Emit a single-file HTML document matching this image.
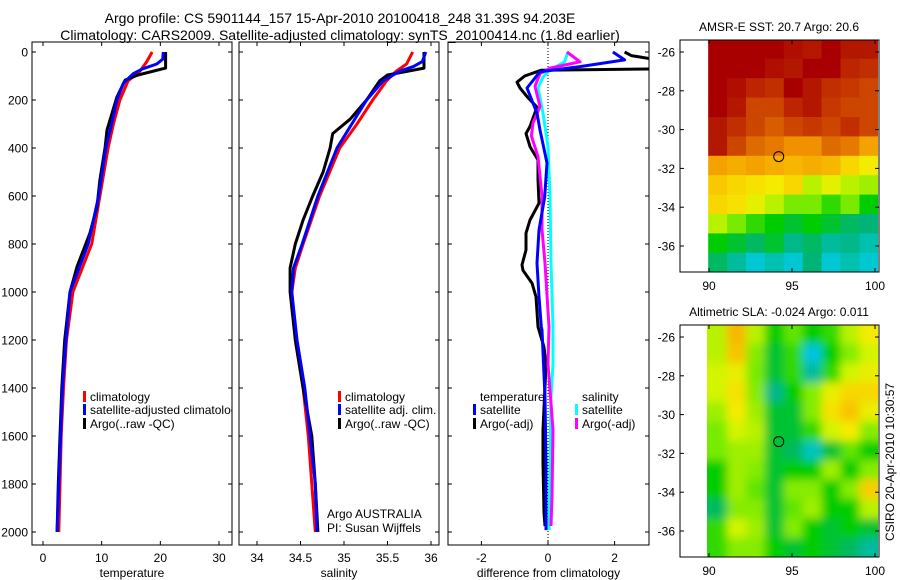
<!DOCTYPE html>
<html><head><meta charset="utf-8"><style>
html,body{margin:0;padding:0;background:#fff}
svg{display:block;font-family:"Liberation Sans",sans-serif}
</style></head><body>
<svg id="fig" width="900" height="580" viewBox="0 0 900 580" xmlns="http://www.w3.org/2000/svg">
<defs>
<clipPath id="c1"><rect x="32" y="42" width="200" height="503"/></clipPath>
<clipPath id="c2"><rect x="239" y="42" width="200" height="503"/></clipPath>
<clipPath id="c3"><rect x="448" y="42" width="201" height="503"/></clipPath>
<clipPath id="cm1"><rect x="707" y="40" width="171" height="232"/></clipPath>
<clipPath id="cm2"><rect x="707" y="325" width="171" height="232"/></clipPath>
<filter id="blur" x="-10%" y="-10%" width="120%" height="120%"><feGaussianBlur stdDeviation="4.5"/></filter>
</defs>
<g font-size="14" fill="#000">
<text x="340" y="23" text-anchor="middle">Argo profile: CS 5901144_157 15-Apr-2010 20100418_248 31.39S 94.203E</text>
<text x="340" y="40" text-anchor="middle">Climatology: CARS2009. Satellite-adjusted climatology: synTS_20100414.nc (1.8d earlier)</text>
</g>
<g id="root"></g>
</svg>
<script>
// ---------- data ----------
const depthTicks=[0,200,400,600,800,1000,1200,1400,1600,1800,2000];
const tempTicks=[0,10,20,30];
const salTicks=[34,34.5,35,35.5,36];
const diffTicks=[-2,0,2];
// temperature profiles
const tArgoD=[0,67,96,117,188,325,395,533,645,755,895,1000,1200,1400,1600,1800,2000];
const tArgoV=[20.9,20.9,16.2,14,12.6,10.9,10.6,9.7,9.2,8.0,5.8,4.6,3.7,3.2,2.9,2.6,2.4];
const tClimD=[0,40,80,120,200,300,400,600,800,1000,1200,1400,1600,1800,2000];
const tClimV=[18.6,17.7,16.5,14.5,13.1,12,11.1,9.7,8.3,5.1,4.0,3.5,3.1,2.9,2.7];
const tSatD=[0,30,50,70,90,130,200,300,400,600,800,1000,1200,1400,1600,1800,2000];
const tSatV=[20.5,20.4,19.4,17,15.4,13.7,12.6,11.7,10.7,9.5,7.7,4.6,3.9,3.3,3.0,2.7,2.4];
// salinity profiles
const sArgoD=[0,67,96,120,200,280,340,400,500,600,700,800,900,1000,1200,1400,1600,1800,2000];
const sArgoV=[35.92,35.92,35.5,35.41,35.26,35.07,34.87,34.84,34.76,34.64,34.53,34.44,34.38,34.38,34.44,34.53,34.63,34.67,34.70];
const sClimD=[0,50,80,120,200,300,400,600,800,900,1000,1200,1400,1600,1800,2000];
const sClimV=[35.79,35.72,35.6,35.49,35.33,35.15,34.95,34.72,34.53,34.44,34.40,34.44,34.53,34.59,34.63,34.67];
const sSatD=[0,40,60,80,120,200,300,400,600,800,900,1000,1200,1400,1600,1800,2000];
const sSatV=[35.94,35.9,35.8,35.64,35.45,35.26,35.09,34.92,34.7,34.52,34.42,34.40,34.46,34.55,34.61,34.67,34.69];
// differences from climatology
const dTSatD=[0,33,61,82,150,255,325,463,603,742,880,1020,1145,1158,1437,1713,1992];
const dTSatV=[1.95,2.3,0.96,-0.24,-0.63,-0.33,-0.24,-0.03,-0.1,-0.27,-0.33,-0.27,-0.2,-0.18,-0.09,-0.06,-0.06];
const dTArgoD=[0,15,40,70,76,100,126,150,186,230,310,340,394,450,530,630,700,755,825,887,910,963,1020,1145,1230,1300,1575,1713,1920,1975];
const dTArgoV=[2.3,2.5,3.6,3.6,-0.2,-0.7,-0.93,-0.84,-0.63,-0.33,-0.54,-0.66,-0.54,-0.3,-0.3,-0.27,-0.54,-0.66,-0.66,-0.78,-0.75,-0.48,-0.36,-0.3,-0.12,-0.06,-0.15,-0.15,-0.12,-0.09];
const dSSatD=[0,41,75,104,150,255,394,600,880,1145,1300,1437,1713,1992];
const dSSatV=[0.6,0.5,0.06,-0.15,-0.3,-0.15,0,0.06,0.09,0.15,0.15,0.09,0.06,0.03];
const dSArgoD=[0,41,67,90,143,227,296,350,435,600,740,880,1145,1300,1575,1850,1975];
const dSArgoV=[0.57,0.96,0.06,-0.24,-0.39,-0.24,-0.45,-0.5,-0.3,-0.18,-0.18,-0.09,0.03,0,0.15,0.12,0.09];
// maps (value 0..1 colour index), rows from north to south, 9 lon columns
const lonTicks=[90,95,100];
const latTicks=[-26,-28,-30,-32,-34,-36];
const sstGrid=[
[1,1,1,1,0.97,0.95,1,0.95,0.95],
[1,1,1,0.97,0.95,1,1,0.92,0.9],
[1,0.97,0.92,0.9,1,0.95,0.9,0.88,0.85],
[1,0.95,0.85,0.85,0.92,0.95,0.88,0.85,0.85],
[0.95,0.9,0.85,0.82,0.85,0.88,0.85,0.9,0.85],
[0.95,0.85,0.8,0.78,0.75,0.75,0.8,0.78,0.72],
[0.72,0.7,0.72,0.7,0.68,0.7,0.68,0.62,0.58],
[0.65,0.62,0.6,0.58,0.62,0.5,0.55,0.5,0.48],
[0.62,0.6,0.55,0.5,0.45,0.45,0.42,0.45,0.4],
[0.5,0.45,0.42,0.4,0.38,0.4,0.38,0.36,0.35],
[0.4,0.38,0.36,0.38,0.34,0.36,0.33,0.34,0.32],
[0.36,0.33,0.3,0.32,0.3,0.35,0.3,0.32,0.3]];
const slaGrid=[
[0.5,0.68,0.5,0.4,0.44,0.4,0.42,0.5,0.58],
[0.5,0.66,0.46,0.38,0.42,0.28,0.4,0.46,0.52],
[0.52,0.56,0.45,0.38,0.42,0.33,0.42,0.52,0.56],
[0.52,0.6,0.46,0.34,0.4,0.46,0.56,0.62,0.62],
[0.48,0.58,0.48,0.38,0.38,0.46,0.6,0.66,0.56],
[0.45,0.52,0.5,0.38,0.38,0.42,0.52,0.58,0.46],
[0.45,0.48,0.48,0.38,0.36,0.31,0.38,0.44,0.4],
[0.4,0.48,0.46,0.38,0.4,0.4,0.48,0.4,0.46],
[0.4,0.48,0.44,0.38,0.46,0.46,0.4,0.46,0.64],
[0.36,0.46,0.46,0.38,0.44,0.48,0.4,0.4,0.5],
[0.42,0.52,0.48,0.38,0.46,0.4,0.38,0.4,0.38],
[0.42,0.46,0.46,0.4,0.38,0.4,0.38,0.36,0.33]];
const gridLon0=89.95, gridLon1=100.2, gridLat0=-25.35, gridLat1=-37.35;
const argoLon=94.2, argoLat=-31.39;

// ---------- helpers ----------
const NS='http://www.w3.org/2000/svg';
const root=document.getElementById('root');
function mk(tag,attrs,parent){const e=document.createElementNS(NS,tag);for(const k in attrs)e.setAttribute(k,attrs[k]);(parent||root).appendChild(e);return e;}
const yD=d=>52+d*0.24;
const xT=v=>43+v*5.867;
const xS=v=>257+(v-34)*87;
const xDf=v=>548+v*33.3;
function line(Ds,Vs,xf,color,w,clip,name){
  const pts=Ds.map((d,i)=>xf(Vs[i]).toFixed(1)+','+yD(d).toFixed(1)).join(' ');
  const p=mk('polyline',{points:pts,fill:'none',stroke:color,'stroke-width':w,'stroke-linejoin':'round','clip-path':'url(#'+clip+')'});
  
  
}
function panel(x0,w,xf,ticks,fmt,label,showY,name){
  const g=mk('g',{});
  
  
  mk('rect',{x:x0,y:42,width:w,height:503,fill:'none',stroke:'#000','stroke-width':1},g);
  ticks.forEach(t=>{const x=xf(t);
    mk('line',{x1:x,x2:x,y1:545,y2:541,stroke:'#000'},g);
    mk('line',{x1:x,x2:x,y1:42,y2:46,stroke:'#000'},g);
    const tx=mk('text',{x:x,y:562,'text-anchor':'middle','font-size':12},g);tx.textContent=fmt(t);
    
    
  });
  depthTicks.forEach(d=>{const y=yD(d);
    mk('line',{x1:x0,x2:x0+4,y1:y,y2:y,stroke:'#000'},g);
    mk('line',{x1:x0+w,x2:x0+w-4,y1:y,y2:y,stroke:'#000'},g);
    if(showY){const t=mk('text',{x:28,y:y+4.5,'text-anchor':'end','font-size':12},g);t.textContent=d;
      
      }
  });
  const l=mk('text',{x:x0+w/2,y:577,'text-anchor':'middle','font-size':12},g);l.textContent=label;
  
  
}
function legendItem(x,y,color,text,clip,name){
  const g=mk('g',{});
  
  
  if(clip)g.setAttribute('clip-path','url(#'+clip+')');
  if(color)mk('rect',{x:x,y:y-9,width:3,height:11,fill:color},g);
  const t=mk('text',{x:x+7,y:y+1,'font-size':12},g);t.textContent=text;
}

// ---------- panels ----------
panel(32,200,xT,tempTicks,t=>t,'temperature',true,'temperature-panel');
panel(239,200,xS,salTicks,t=>t,'salinity',false,'salinity-panel');
panel(448,201,xDf,diffTicks,t=>t,'difference from climatology',false,'difference-panel');
const zl=mk('line',{x1:xDf(0),x2:xDf(0),y1:42,y2:545,stroke:'#000','stroke-width':1,'stroke-dasharray':'1,2'});



line(tClimD,tClimV,xT,'#ff0000',3,'c1','temp-climatology-line');
line(tArgoD,tArgoV,xT,'#000',3,'c1','temp-argo-line');
line(tSatD,tSatV,xT,'#0000ff',3,'c1','temp-satellite-line');
line(sClimD,sClimV,xS,'#ff0000',3,'c2','sal-climatology-line');
line(sArgoD,sArgoV,xS,'#000',3,'c2','sal-argo-line');
line(sSatD,sSatV,xS,'#0000ff',3,'c2','sal-satellite-line');
line(dTArgoD,dTArgoV,xDf,'#000',3,'c3','diff-temp-argo-line');
line(dSSatD,dSSatV,xDf,'#00ffff',3,'c3','diff-sal-satellite-line');
line(dSArgoD,dSArgoV,xDf,'#ff00ff',3,'c3','diff-sal-argo-line');
line(dTSatD,dTSatV,xDf,'#0000ff',3,'c3','diff-temp-satellite-line');

legendItem(83,400,'#ff0000','climatology','c1','legend-climatology');
legendItem(83,413,'#0000ff','satellite-adjusted climatology','c1','legend-satellite-adjusted');
legendItem(83,427,'#000','Argo(..raw -QC)','c1','legend-argo');
legendItem(338,400,'#ff0000','climatology',null,'legend-sal-climatology');
legendItem(338,413,'#0000ff','satellite adj. clim.',null,'legend-sal-satellite');
legendItem(338,427,'#000','Argo(..raw -QC)',null,'legend-sal-argo');
legendItem(473,400,null,'temperature',null,'legend-temp-header');
legendItem(473,413,'#0000ff','satellite',null,'legend-temp-satellite');
legendItem(473,427,'#000','Argo(-adj)',null,'legend-temp-argo');
legendItem(575,400,null,'salinity',null,'legend-sal-header');
legendItem(575,413,'#00ffff','satellite',null,'legend-diff-sal-satellite');
legendItem(575,427,'#ff00ff','Argo(-adj)',null,'legend-diff-sal-argo');
const a1=mk('text',{x:327,y:518,'font-size':12});a1.textContent='Argo AUSTRALIA';


const a2=mk('text',{x:327,y:532,'font-size':12});a2.textContent='PI: Susan Wijffels';



// ---------- maps ----------
const stops=[[0.25,[0,190,240]],[0.3,[0,200,210]],[0.35,[0,180,120]],[0.4,[0,205,0]],[0.45,[120,235,0]],[0.52,[210,245,0]],[0.58,[245,235,0]],[0.65,[250,200,0]],[0.75,[240,145,0]],[0.85,[205,70,0]],[1,[168,0,0]]];
function cmap(v){
  if(v<=stops[0][0])return 'rgb('+stops[0][1]+')';
  for(let i=1;i<stops.length;i++){if(v<=stops[i][0]){const a=stops[i-1],b=stops[i],f=(v-a[0])/(b[0]-a[0]);
    return 'rgb('+a[1].map((c,k)=>Math.round(c+(b[1][k]-c)*f)).join(',')+')';}}
  return 'rgb('+stops[stops.length-1][1]+')';
}
function mapPanel(top,grid,clip,blur,title,name){
  const xL=lon=>709+(lon-90)*16.6;
  const yL=lat=>top+12+(-26-lat)*19.4;
  const g=mk('g',{});
  
  
  const t=mk('text',{x:779,y:top-9,'text-anchor':'middle','font-size':12},g);t.textContent=title;
  const cg=mk('g',{'clip-path':'url(#'+clip+')'},g);
  const ig=mk('g',blur?{filter:'url(#blur)'}:{},cg);
  const nr=grid.length,nc=grid[0].length;
  const dLon=(gridLon1-gridLon0)/nc,dLat=(gridLat0-gridLat1)/nr;
  for(let r=0;r<nr;r++)for(let c=0;c<nc;c++){
    const x=xL(gridLon0+c*dLon),y=yL(gridLat0-r*dLat);
    const ext=blur?12:0;
    const x0=c===0?x-ext:x, y0=r===0?y-ext:y;
    const x1=c===nc-1?xL(gridLon0+(c+1)*dLon)+ext:xL(gridLon0+(c+1)*dLon);
    const y1=r===nr-1?yL(gridLat0-(r+1)*dLat)+ext:yL(gridLat0-(r+1)*dLat);
    const cell=mk('rect',{x:x0,y:y0,width:x1-x0+0.5,height:y1-y0+0.5,fill:cmap(grid[r][c])},ig);
    
    
  }
  mk('rect',{x:680,y:top,width:199,height:232,fill:'none',stroke:'#000'},g);
  lonTicks.forEach(l=>{const x=xL(l);
    mk('line',{x1:x,x2:x,y1:top+232,y2:top+228,stroke:'#000'},g);
    mk('line',{x1:x,x2:x,y1:top,y2:top+4,stroke:'#000'},g);
    const tx=mk('text',{x:x,y:top+250,'text-anchor':'middle','font-size':12},g);tx.textContent=l;
    
    });
  latTicks.forEach(l=>{const y=yL(l);
    mk('line',{x1:680,x2:684,y1:y,y2:y,stroke:'#000'},g);
    mk('line',{x1:879,x2:875,y1:y,y2:y,stroke:'#000'},g);
    const tx=mk('text',{x:675,y:y+4.5,'text-anchor':'end','font-size':12},g);tx.textContent=l;
    
    });
  const c=mk('circle',{cx:xL(argoLon),cy:yL(argoLat),r:5,fill:'none',stroke:'#000','stroke-width':1},g);
  
  
}
mapPanel(40,sstGrid,'cm1',false,'AMSR-E SST: 20.7 Argo: 20.6','sst-map');
mapPanel(325,slaGrid,'cm2',true,'Altimetric SLA: -0.024 Argo: 0.011','sla-map');
const cs=mk('text',{x:0,y:0,'font-size':12,transform:'translate(894,462) rotate(-90)','text-anchor':'middle'});
cs.textContent='CSIRO 20-Apr-2010 10:30:57';


</script>
</body></html>
